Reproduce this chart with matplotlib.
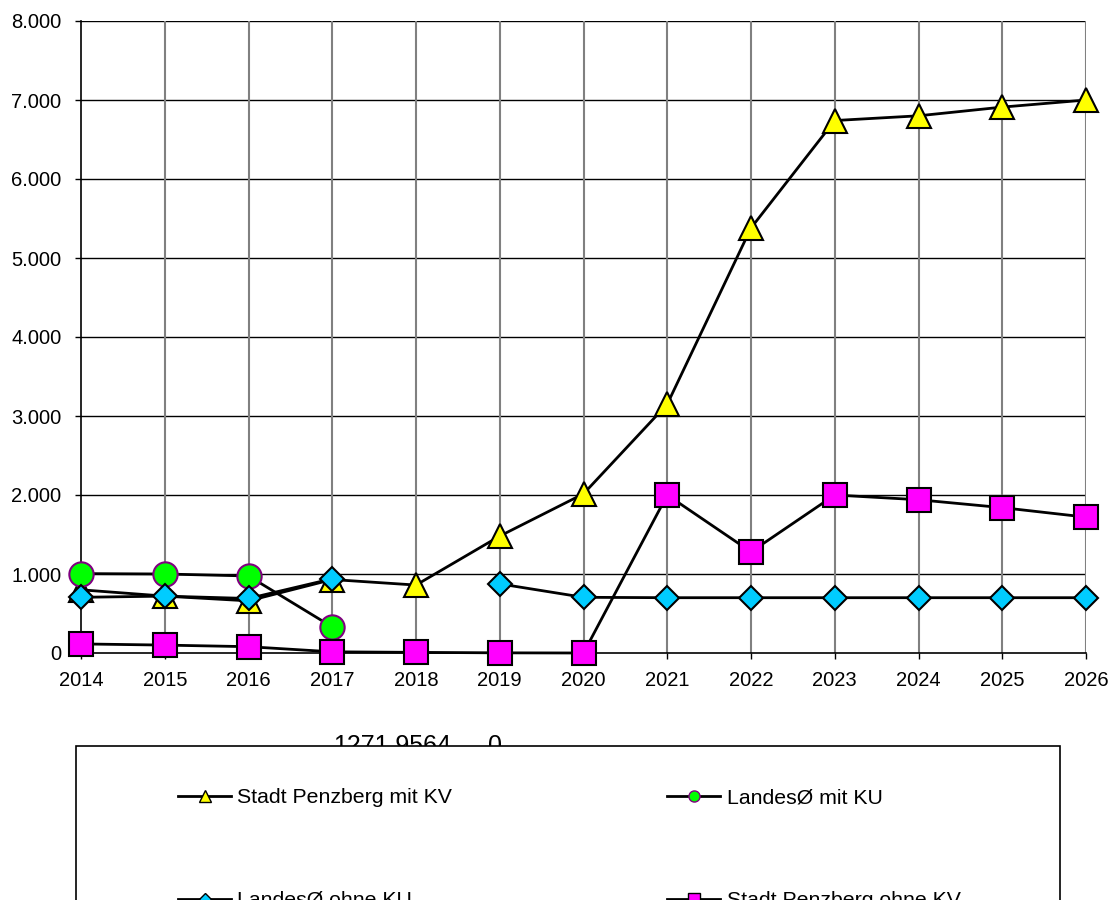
import matplotlib
matplotlib.use("Agg")
import matplotlib.pyplot as plt
import numpy as np
from matplotlib.lines import Line2D
from matplotlib.patches import Rectangle
from matplotlib.ticker import FuncFormatter

plt.rcParams['font.family'] = ['Liberation Sans', 'DejaVu Sans']

years = list(range(2014, 2027))
penzberg_mit_kv = [800, 720, 660, 930, 860, 1480, 2015, 3150, 5380, 6740, 6800, 6910, 7000]
landes_mit_ku = [1005, 1000, 975, 330, np.nan, np.nan, np.nan, np.nan, np.nan, np.nan, np.nan, np.nan, np.nan]
landes_ohne_ku = [705, 720, 690, 940, np.nan, 875, 705, 700, 700, 700, 700, 700, 700]
penzberg_ohne_kv = [115, 100, 80, 15, 8, 2, 0, 2000, 1280, 2000, 1940, 1840, 1720]

series_labels = ["Stadt Penzberg mit KV", "LandesØ mit KU", "LandesØ ohne KU", "Stadt Penzberg ohne KV"]
note_value = "1271,9564"
note_zero = "0"

W, H = 1113, 900
fig = plt.figure(figsize=(W / 100, H / 100), dpi=100)
ax = fig.add_axes([81 / W, 1 - 653 / H, (1086 - 81) / W, (653 - 21) / H])

styles = [
    dict(marker='^', ms=17, mfc='#FFFF00', mec='black'),
    dict(marker='o', ms=17.5, mfc='#00FF00', mec='#800080'),
    dict(marker='D', ms=12.5, mfc='#00CCFF', mec='black'),
    dict(marker='s', ms=17, mfc='#FF00FF', mec='black'),
]
data = [penzberg_mit_kv, landes_mit_ku, landes_ohne_ku, penzberg_ohne_kv]

for i, (vals, st) in enumerate(zip(data, styles)):
    ax.plot(years, vals, color='black', lw=2, mew=1.5, clip_on=False, zorder=3 + i, **st)

ax.set_xlim(2014, 2026)
ax.set_ylim(0, 8000)
ax.set_xticks(years)
ax.set_yticks(range(0, 8001, 1000))
ax.yaxis.set_major_formatter(FuncFormatter(lambda v, p: f"{int(v):,}".replace(",", ".")))

# gridlines: black horizontals, grey verticals
for v in range(1000, 8001, 1000):
    ax.axhline(v, color='black', lw=1, zorder=1)
for yr in years[1:]:
    ax.axvline(yr, color='#808080', lw=1.5, zorder=1)

for s in ['left', 'bottom']:
    ax.spines[s].set_color('black')
    ax.spines[s].set_linewidth(1.2)
ax.spines['top'].set_visible(False)
ax.spines['right'].set_visible(False)

ax.tick_params(axis='both', labelsize=14.5, length=4, width=1, colors='black')
ax.tick_params(axis='y', pad=10)
ax.tick_params(axis='x', pad=9)

# stray value label, partly covered by the legend box
fig.text(333 / W, 1 - 753 / H, note_value, fontsize=18, va='baseline', ha='left', zorder=1)
fig.text(488 / W, 1 - 753 / H, note_zero, fontsize=18, va='baseline', ha='left', zorder=1)

# legend box
box = Rectangle((76 / W, -0.05), (1060 - 76) / W, (1 - 746 / H) + 0.05,
                transform=fig.transFigure, facecolor='white', edgecolor='black', lw=1.2, zorder=5)
fig.add_artist(box)

cols = [(178, 231, 237), (667, 720, 727)]
rows = [803, 906]
for k, (lab, st) in enumerate(zip(series_labels, styles)):
    r, c = divmod(k, 2)
    x0, x1, xt = cols[c]
    yb = rows[r]
    yl = yb - 7
    small = dict(st)
    small['ms'] = 8 if st['marker'] != 'D' else 6
    fig.add_artist(Line2D([x0 / W, x1 / W], [1 - yl / H, 1 - yl / H], transform=fig.transFigure,
                          color='black', lw=2, zorder=6))
    fig.add_artist(Line2D([(x0 + x1) / 2 / W], [1 - yl / H], transform=fig.transFigure,
                          color='black', lw=0, mew=1, zorder=7, **small))
    fig.text(xt / W, 1 - yb / H, lab, fontsize=15.3, va='baseline', ha='left', zorder=7)

fig.savefig("out.png", dpi=100)
